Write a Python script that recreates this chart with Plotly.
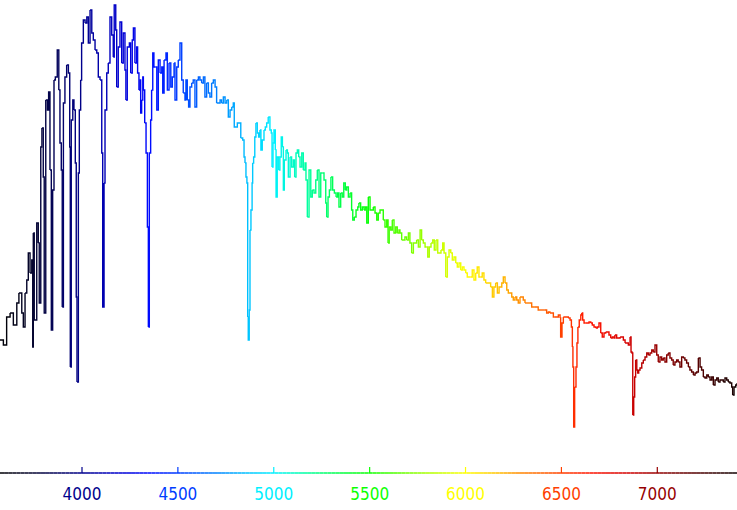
import numpy as np
import plotly.graph_objects as go

# Wavelength (Angstrom) and relative flux
wavelength = [
    3572, 3590, 3607, 3625, 3642, 3660, 3671, 3686, 3694, 3703, 3712, 3720, 3729, 3738, 3743, 3746,
    3751, 3764, 3772, 3777, 3785, 3791, 3798, 3803, 3811, 3819, 3826, 3833, 3840, 3847, 3854, 3861,
    3871, 3879, 3885, 3892, 3897, 3903, 3911, 3920, 3929, 3936, 3939, 3944, 3952, 3958, 3965, 3970,
    3974, 3981, 3986, 3993, 3998, 4007, 4016, 4025, 4033, 4042, 4051, 4059, 4068, 4077, 4085,
    4094, 4103, 4108, 4115, 4120, 4129, 4137, 4146, 4155, 4163, 4168, 4176, 4181, 4189, 4198, 4207,
    4215, 4224, 4229, 4236, 4247, 4254, 4262, 4268, 4276, 4285, 4290, 4297, 4302, 4306, 4311, 4317,
    4320, 4327, 4334, 4341, 4346, 4351, 4358, 4363, 4369, 4375, 4384, 4390, 4398, 4407, 4416, 4421,
    4428, 4438, 4445, 4454, 4463, 4471, 4480, 4485, 4494, 4502, 4511, 4520, 4528, 4537, 4542, 4549,
    4556, 4563, 4572, 4580, 4589, 4598, 4607, 4615,
    4624, 4633, 4641, 4650, 4659, 4667, 4676, 4685, 4694, 4702, 4711, 4720, 4728, 4737, 4746, 4755,
    4763, 4772, 4781, 4789, 4794, 4803, 4810, 4819, 4828, 4838, 4845, 4850, 4855, 4860, 4864, 4867,
    4872, 4876, 4881, 4887, 4890, 4895, 4901, 4907, 4914, 4921, 4928, 4933, 4940, 4949, 4956, 4963,
    4971, 4980, 4987, 4991, 4996, 5001, 5008, 5012, 5018, 5026, 5032, 5039, 5045, 5050, 5055, 5064,
    5071, 5076, 5085, 5093, 5102, 5109, 5116, 5123, 5130, 5137,
    5146, 5154, 5163, 5168, 5175, 5184, 5193, 5201, 5210, 5219, 5227, 5236, 5245, 5253, 5262, 5271,
    5276, 5283, 5290, 5298, 5307, 5316, 5325, 5333, 5340, 5349, 5357, 5365, 5373, 5380, 5389, 5398,
    5406, 5412, 5420, 5429, 5438, 5444, 5453, 5462, 5471, 5477, 5485, 5493, 5502, 5511, 5519, 5528,
    5537, 5545, 5554, 5563, 5571, 5580, 5589, 5596, 5602, 5610, 5618, 5627, 5636, 5644, 5653,
    5658, 5667, 5675, 5684, 5693, 5702, 5710, 5719, 5728, 5736, 5745, 5754, 5763, 5771, 5780, 5789,
    5797, 5803, 5811, 5820, 5829, 5837, 5846, 5855, 5863, 5872, 5881, 5888, 5897, 5905, 5914, 5923,
    5931, 5940, 5949, 5957, 5966, 5975, 5983, 5992, 6001, 6009, 6018, 6027, 6035, 6044, 6053, 6061,
    6070, 6079, 6087, 6096, 6105, 6113, 6122, 6131, 6140, 6148, 6157, 6166, 6175,
    6180, 6189, 6197, 6206, 6215, 6223, 6232, 6241, 6249, 6258, 6267, 6275, 6284, 6293, 6301, 6310,
    6319, 6327, 6336, 6345, 6353, 6362, 6371, 6379, 6388, 6397, 6405, 6414, 6423, 6432, 6440, 6449,
    6458, 6466, 6475, 6484, 6493, 6496, 6503, 6510, 6519, 6528, 6536, 6545, 6552, 6557, 6560, 6564,
    6569, 6576, 6581, 6586, 6593, 6601, 6606, 6611, 6618, 6627, 6635, 6644, 6653, 6661, 6670, 6679,
    6687, 6696, 6705, 6713, 6722, 6731, 6739, 6748, 6757, 6765, 6774,
    6779, 6788, 6797, 6806, 6814, 6823, 6832, 6840, 6849, 6858, 6863, 6868, 6872, 6877, 6882, 6887,
    6893, 6898, 6903, 6910, 6919, 6927, 6936, 6945, 6953, 6962, 6971, 6979, 6988, 6997, 7005, 7014,
    7023, 7031, 7040, 7049, 7057, 7066, 7075, 7083, 7092, 7101, 7109, 7118, 7127, 7136, 7144, 7153,
    7162, 7170, 7179, 7188, 7197, 7205, 7214, 7223, 7231, 7240, 7249, 7258, 7266, 7275, 7284, 7292,
    7301, 7310, 7318, 7327, 7336, 7344, 7353, 7362, 7370, 7379, 7388, 7393, 7400, 7409, 7416,
]

flux = [
    1.33, 1.28, 1.56, 1.60, 1.48, 1.70, 1.80, 1.60, 1.46, 1.80, 1.93, 2.20, 2.00, 2.13, 1.26, 2.40,
    1.53, 2.50, 2.30, 1.70, 3.26, 3.45, 2.96, 1.60, 3.73, 3.63, 3.81, 3.03, 1.43, 2.83, 3.93, 3.96,
    4.23, 3.83, 3.30, 3.03, 1.66, 3.70, 3.96, 4.08, 4.00, 3.26, 1.06, 3.53, 3.73, 3.63, 3.10, 1.76,
    0.91, 3.00, 3.63, 3.93, 4.30, 4.53, 4.50, 4.56, 4.30, 4.63, 4.40, 4.33, 4.23, 4.20, 3.96,
    3.93, 3.20, 1.66, 2.90, 3.63, 4.00, 4.10, 4.56, 4.38, 4.16, 4.68, 4.43, 3.86, 4.26, 4.51, 4.10,
    4.40, 4.03, 3.73, 4.26, 4.30, 4.00, 4.33, 4.45, 4.10, 4.26, 4.00, 3.83, 3.93, 3.60, 3.73, 3.96,
    3.83, 3.50, 3.20, 2.46, 1.46, 3.20, 3.53, 3.83, 4.20, 4.06, 4.06, 3.63, 4.13, 4.00, 4.06, 3.80,
    4.13, 4.20, 3.83, 4.10, 3.86, 3.96, 4.10, 3.73, 4.06, 4.13, 4.30, 3.93, 3.80, 3.73, 3.93, 3.73,
    3.66, 3.86, 3.90, 3.93, 3.66, 3.93, 3.96, 3.93,
    3.90, 3.96, 3.76, 3.90, 3.80, 3.76, 3.90, 3.93, 3.86, 3.70, 3.70, 3.73, 3.70, 3.76, 3.70, 3.73,
    3.56, 3.63, 3.66, 3.70, 3.46, 3.46, 3.50, 3.50, 3.35, 3.33, 3.16, 3.10, 2.96, 2.90, 1.56, 1.33,
    1.63, 2.43, 2.63, 2.90, 3.10, 3.16, 3.36, 3.50, 3.40, 3.36, 3.43, 3.23, 3.33, 3.43, 3.46, 3.50,
    3.56, 3.43, 3.40, 3.06, 3.30, 3.43, 3.23, 2.76, 3.16, 3.03, 3.16, 3.36, 3.26, 2.83, 3.13, 3.23,
    3.20, 2.96, 3.16, 3.06, 3.13, 2.96, 3.20, 3.23, 3.16, 3.06,
    3.20, 3.03, 3.10, 2.93, 2.56, 3.03, 2.76, 2.83, 2.80, 2.93, 3.03, 2.76, 3.00, 3.00, 2.93, 2.70,
    2.56, 2.76, 2.83, 2.96, 2.83, 2.80, 2.76, 2.80, 2.66, 2.80, 2.76, 2.90, 2.83, 2.86, 2.76, 2.80,
    2.63, 2.53, 2.56, 2.63, 2.66, 2.70, 2.63, 2.66, 2.63, 2.66, 2.50, 2.76, 2.63, 2.63, 2.66, 2.60,
    2.53, 2.60, 2.63, 2.63, 2.53, 2.46, 2.53, 2.30, 2.46, 2.43, 2.53, 2.40, 2.46, 2.40, 2.43,
    2.40, 2.33, 2.33, 2.36, 2.33, 2.40, 2.30, 2.20, 2.30, 2.30, 2.33, 2.26, 2.43, 2.33, 2.30, 2.26,
    2.26, 2.16, 2.26, 2.30, 2.33, 2.23, 2.33, 2.20, 2.20, 2.23, 2.30, 2.20, 1.96, 2.16, 2.23, 2.20,
    2.13, 2.16, 2.10, 2.06, 2.10, 2.03, 2.06, 2.03, 2.00, 1.96, 1.96, 1.96, 2.03, 1.93, 2.00, 2.06,
    1.96, 1.96, 2.00, 1.93, 1.90, 1.90, 1.90, 1.86, 1.76, 1.86, 1.90, 1.80, 1.86,
    1.86, 1.90, 1.96, 1.90, 1.83, 1.80, 1.80, 1.76, 1.73, 1.76, 1.73, 1.70, 1.76, 1.76, 1.73, 1.70,
    1.70, 1.70, 1.70, 1.66, 1.66, 1.66, 1.66, 1.63, 1.63, 1.63, 1.63, 1.63, 1.60, 1.61, 1.60, 1.60,
    1.56, 1.56, 1.56, 1.58, 1.55, 1.36, 1.50, 1.56, 1.56, 1.56, 1.55, 1.53, 1.46, 1.26, 1.06, 0.46,
    0.86, 1.06, 1.30, 1.46, 1.53, 1.58, 1.60, 1.53, 1.50, 1.50, 1.50, 1.51, 1.50, 1.48, 1.46, 1.45,
    1.46, 1.50, 1.40, 1.36, 1.40, 1.41, 1.41, 1.38, 1.35, 1.36, 1.35,
    1.38, 1.35, 1.35, 1.36, 1.36, 1.33, 1.30, 1.30, 1.28, 1.36, 1.21, 1.20, 0.58, 0.76, 0.96, 1.13,
    1.03, 1.00, 1.03, 1.05, 1.10, 1.13, 1.16, 1.20, 1.18, 1.20, 1.23, 1.21, 1.28, 1.18, 1.11, 1.16,
    1.13, 1.15, 1.11, 1.18, 1.20, 1.15, 1.13, 1.08, 1.11, 1.13, 1.11, 1.06, 1.16, 1.15, 1.13, 1.10,
    1.06, 1.03, 1.01, 0.98, 1.00, 1.01, 1.15, 1.06, 1.03, 0.96, 0.95, 0.98, 0.96, 0.93, 0.96, 0.88,
    0.93, 0.95, 0.91, 0.93, 0.93, 0.91, 0.95, 0.93, 0.91, 0.90, 0.86, 0.78, 0.86, 0.88, 0.90,
]

tick_values = [4000, 4500, 5000, 5500, 6000, 6500, 7000]
tick_labels = ["4000", "4500", "5000", "5500", "6000", "6500", "7000"]

x_min, x_max = 3572.4, 7415.6

# wavelength -> colour stops (style)
STOPS = [
    (3560, (0, 0, 0)), (3750, (5, 5, 50)), (4000, (0, 0, 140)), (4200, (0, 0, 210)),
    (4350, (0, 10, 255)), (4500, (0, 60, 255)), (4700, (0, 130, 255)), (4850, (0, 190, 255)),
    (5000, (0, 240, 255)), (5150, (0, 255, 170)), (5300, (0, 255, 90)), (5500, (10, 255, 0)),
    (5800, (170, 255, 0)), (6000, (255, 255, 0)), (6150, (255, 200, 0)), (6300, (255, 130, 0)),
    (6500, (255, 64, 0)), (6650, (255, 20, 0)), (6850, (210, 0, 0)), (7000, (150, 0, 0)),
    (7200, (85, 0, 0)), (7430, (10, 0, 0)),
]
_sw = [s[0] for s in STOPS]


def wl_color(w):
    r = np.interp(w, _sw, [s[1][0] for s in STOPS])
    g = np.interp(w, _sw, [s[1][1] for s in STOPS])
    b = np.interp(w, _sw, [s[1][2] for s in STOPS])
    return "#%02x%02x%02x" % (int(round(r)), int(round(g)), int(round(b)))


fig = go.Figure()

# spectrum, drawn in short colour-coded step segments
n = len(wavelength)
step = 3
for i in range(0, n - 1, step):
    j = min(i + step, n - 1)
    xs = wavelength[i:j + 1]
    ys = flux[i:j + 1]
    fig.add_trace(go.Scatter(
        x=xs, y=ys, mode="lines",
        line=dict(color=wl_color(0.5 * (xs[0] + xs[-1])), width=1.4, shape="hv"),
        hoverinfo="skip", showlegend=False))

# colour-graded axis line
edges = np.linspace(x_min, x_max, 181)
for a, b in zip(edges[:-1], edges[1:]):
    fig.add_trace(go.Scatter(
        x=[a, b], y=[0, 0], mode="lines",
        line=dict(color=wl_color(0.5 * (a + b)), width=1.5),
        hoverinfo="skip", showlegend=False))

# coloured tick marks
for tv in tick_values:
    fig.add_trace(go.Scatter(
        x=[tv, tv], y=[0, 0.06], mode="lines",
        line=dict(color=wl_color(tv), width=1.2),
        hoverinfo="skip", showlegend=False))

ticktext = ['<span style="color:%s">%s</span>' % (wl_color(v), t)
            for v, t in zip(tick_values, tick_labels)]

fig.update_layout(
    width=737, height=510,
    margin=dict(l=0, r=0, t=0, b=30, pad=0),
    paper_bgcolor="white", plot_bgcolor="white",
    showlegend=False,
    xaxis=dict(
        range=[x_min, x_max], showgrid=False, zeroline=False, showline=False,
        ticks="", tickmode="array", tickvals=tick_values, ticktext=ticktext,
        tickfont=dict(family="Liberation Sans Narrow, DejaVu Sans Condensed, Liberation Sans, sans-serif",
                      size=17),
        ticklabelstandoff=2,
    ),
    yaxis=dict(range=[-0.07, 4.73], visible=False, showgrid=False, zeroline=False),
)

fig.write_html(
    "out.html",
    config={"displayModeBar": False},
    post_script="document.body.style.margin='0';document.body.style.padding='0';",
)
